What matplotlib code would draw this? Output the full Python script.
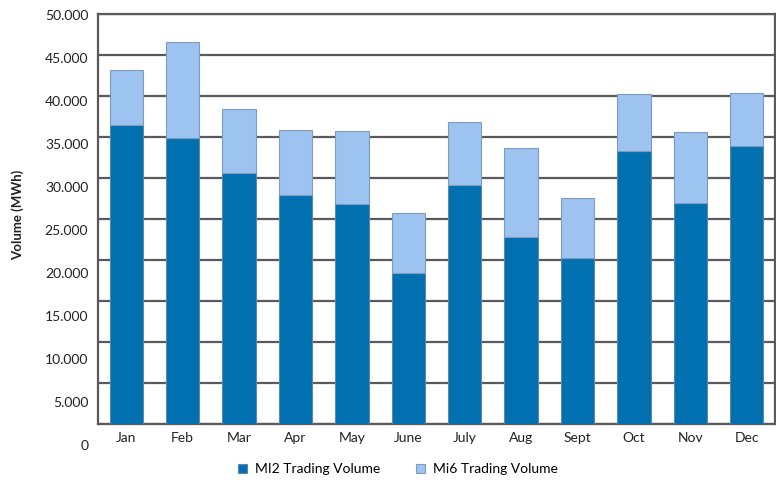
import matplotlib.pyplot as plt

months = ['Jan', 'Feb', 'Mar', 'Apr', 'May', 'June', 'July', 'Aug', 'Sept', 'Oct', 'Nov', 'Dec']
mi2_volume = [36460, 34880, 30610, 27930, 26790, 18380, 29150, 22850, 20200, 33290, 26910, 33940]
mi6_volume = [6710, 11670, 7800, 7920, 8940, 7320, 7720, 10800, 7400, 6910, 8740, 6390]
y_ticks = [0, 5000, 10000, 15000, 20000, 25000, 30000, 35000, 40000, 45000, 50000]
y_tick_labels = ['0', '5.000', '10.000', '15.000', '20.000', '25.000', '30.000',
                 '35.000', '40.000', '45.000', '50.000']

plt.rcParams['font.family'] = ['Lato', 'DejaVu Sans']

W, H = 776, 480
fig = plt.figure(figsize=(W / 100, H / 100), dpi=100)

# main plot area (pixels 98..775 wide, 14..424 tall)
ax = fig.add_axes([98 / W, 1 - 424 / H, 677 / W, 410 / H])
x = range(len(months))
ax.bar(x, mi2_volume, width=0.59, color='#0070b0', edgecolor='#5f86ad', linewidth=0.8,
       label='MI2 Trading Volume', zorder=3)
ax.bar(x, mi6_volume, bottom=mi2_volume, width=0.59, color='#9dc3f0', edgecolor='#7f9cbf',
       linewidth=0.8, label='Mi6 Trading Volume', zorder=3)

ax.set_xlim(-0.5, len(months) - 0.5)
ax.set_ylim(0, 50000)
ax.set_yticks(y_ticks)
ax.set_yticklabels([])
ax.grid(axis='y', color='#5a5a5a', linewidth=1.6, zorder=1)
ax.set_xticks(list(x))
ax.set_xticklabels(months, fontsize=10, color='#222222')
ax.tick_params(axis='both', length=0)
ax.tick_params(axis='x', pad=6)
for side in ['left', 'bottom', 'top', 'right']:
    ax.spines[side].set_color('#5a5a5a')
    ax.spines[side].set_linewidth(1.6)

# the y labels in the original sit on a slightly stretched scale
lab = fig.add_axes([98 / W, 1 - 445 / H, 0.001, 430 / H])
lab.set_ylim(0, 50000)
lab.set_yticks(y_ticks)
lab.set_yticklabels(y_tick_labels, fontsize=10, color='#222222')
lab.set_xticks([])
lab.tick_params(axis='y', length=0, pad=7)
for s in lab.spines.values():
    s.set_visible(False)
lab.patch.set_alpha(0)

fig.text(18 / W, 1 - 215 / H, 'Volume (MWh)', rotation=90, fontsize=9.5, fontweight='bold',
         ha='center', va='center', color='#222222')

fig.legend(loc='center', bbox_to_anchor=(398 / W, 1 - 469 / H), ncol=2, frameon=False,
           fontsize=10, handlelength=0.6, handleheight=0.6, columnspacing=2.6,
           handletextpad=0.6)

fig.savefig('out.png', dpi=100)
